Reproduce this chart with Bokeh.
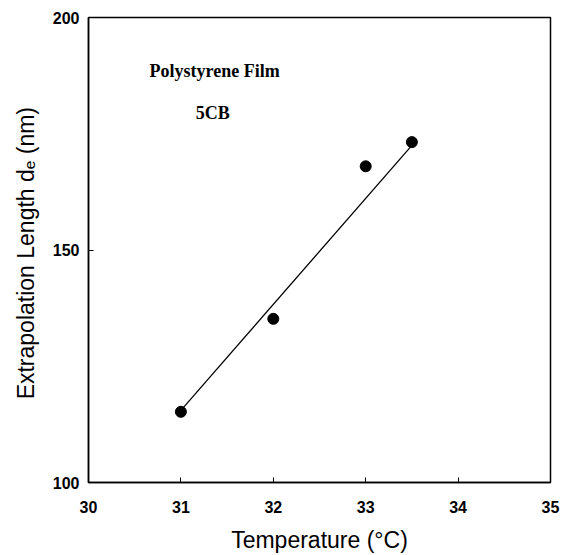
from bokeh.plotting import figure
from bokeh.models import Label, FixedTicker, Range1d
from bokeh.embed import file_html
from bokeh.resources import INLINE

temperature = [31.0, 32.0, 33.0, 33.5]
extrapolation = [115.2, 135.2, 168.0, 173.2]
fit_x = [31.0, 33.5]
fit_y = [115.5, 172.5]
x_ticks = [30, 31, 32, 33, 34, 35]
y_ticks = [100, 150, 200]

p = figure(width=566, height=555, output_backend="svg", toolbar_location=None,
           x_range=Range1d(30, 35), y_range=Range1d(100, 200),
           min_border_left=88, min_border_right=16, min_border_top=17, min_border_bottom=72)
p.background_fill_color = "white"
p.border_fill_color = "white"
p.grid.visible = False
p.outline_line_color = "black"
p.outline_line_width = 1.5

p.line(fit_x, fit_y, line_color="black", line_width=1.3)
p.scatter(temperature, extrapolation, size=11, color="black")

for ax in (p.xaxis[0], p.yaxis[0]):
    ax.axis_line_color = "black"
    ax.axis_line_width = 1.5
    ax.major_tick_in = 5
    ax.major_tick_out = 0
    ax.minor_tick_in = 0
    ax.minor_tick_out = 0
    ax.major_label_text_font = "Liberation Sans"
    ax.major_label_text_font_size = "16px"
    ax.major_label_text_font_style = "bold"
    ax.major_label_text_color = "black"
    ax.axis_label_text_font = "Liberation Sans"
    ax.axis_label_text_font_size = "23px"
    ax.axis_label_text_font_style = "normal"
    ax.axis_label_text_color = "black"

p.xaxis.ticker = FixedTicker(ticks=x_ticks)
p.yaxis.ticker = FixedTicker(ticks=y_ticks)
p.xaxis.axis_label = "Temperature (\u00b0C)"
p.yaxis.axis_label = "Extrapolation Length d\u2091  (nm)"
p.xaxis.major_label_standoff = 18
p.yaxis.major_label_standoff = 9
p.xaxis.axis_label_standoff = 11
p.yaxis.axis_label_standoff = 11

p.add_layout(Label(x=30.66, y=188.6, text="Polystyrene Film", text_font="Liberation Serif",
                   text_font_style="bold", text_font_size="18px", text_baseline="middle",
                   text_color="black"))
p.add_layout(Label(x=31.16, y=179.4, text="5CB", text_font="Liberation Serif",
                   text_font_style="bold", text_font_size="18px", text_baseline="middle",
                   text_color="black"))

open("out.html", "w").write(file_html(p, INLINE))
